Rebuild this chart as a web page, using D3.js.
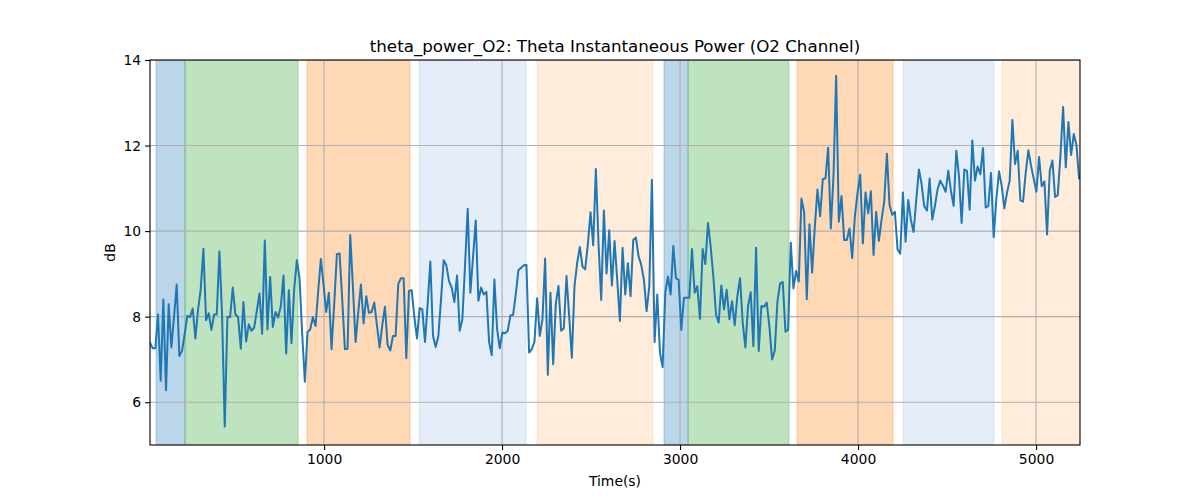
<!DOCTYPE html>
<html>
<head>
<meta charset="utf-8">
<script src="https://cdn.jsdelivr.net/npm/d3@7"></script>
<style>
  html, body { margin: 0; padding: 0; background: #fff; }
  svg { font-family: "DejaVu Sans", sans-serif; }
</style>
</head>
<body>
<svg id="chart" width="1200" height="500"></svg>
<script>
// ---- data ----
const title = "theta_power_O2: Theta Instantaneous Power (O2 Channel)";
const xLabel = "Time(s)";
const yLabel = "dB";
const startTime = 22;      // seconds
const sampleStep = 15;     // seconds between samples
const powerDb = [
  7.39, 7.26, 7.26, 8.05, 6.50, 8.40, 6.28, 8.29, 7.28, 8.00,
  8.75, 7.08, 7.20, 7.60, 8.02, 7.99, 8.19, 7.49, 8.17, 8.64,
  9.59, 7.92, 8.08, 7.69, 8.05, 8.05, 9.53, 8.02, 5.43, 8.00,
  7.99, 8.68, 8.05, 7.99, 7.25, 8.34, 7.42, 7.82, 7.67, 7.74,
  8.13, 8.54, 7.60, 9.78, 7.70, 8.93, 7.76, 8.11, 7.98, 8.25,
  8.96, 7.14, 8.62, 7.38, 8.64, 9.32, 8.90, 7.60, 6.48, 7.64,
  7.70, 7.99, 7.78, 8.60, 9.35, 8.75, 8.11, 8.56, 7.24, 8.30,
  9.46, 9.48, 8.40, 7.24, 7.25, 9.91, 8.70, 7.41, 8.10, 8.75,
  7.84, 8.48, 8.09, 8.11, 8.33, 7.80, 7.28, 7.80, 8.23, 7.34,
  7.21, 7.55, 7.55, 8.77, 8.90, 8.90, 7.03, 8.60, 8.62, 8.00,
  7.49, 8.20, 8.17, 7.41, 8.30, 9.29, 7.55, 7.29, 7.55, 8.40,
  9.32, 9.20, 8.83, 8.68, 8.34, 8.96, 7.67, 7.94, 9.20, 10.52,
  8.56, 9.40, 10.25, 8.37, 8.68, 8.52, 8.58, 7.41, 7.10, 8.87,
  7.71, 7.26, 7.63, 7.61, 7.67, 8.03, 8.04, 8.52, 9.09, 9.14,
  9.20, 9.21, 7.16, 7.24, 7.41, 8.43, 7.55, 7.94, 9.36, 6.64,
  8.56, 6.89, 8.31, 8.72, 7.67, 7.73, 8.95, 8.02, 7.04, 8.72,
  9.26, 9.63, 9.17, 9.11, 9.69, 10.44, 9.67, 11.45, 9.70, 8.39,
  10.48, 9.01, 10.02, 8.73, 9.77, 8.86, 7.90, 9.61, 8.52, 9.25,
  8.48, 9.79, 9.85, 9.41, 9.21, 8.86, 8.13, 8.71, 11.20, 7.41,
  8.52, 7.16, 6.82, 8.56, 8.94, 8.52, 9.65, 8.90, 8.86, 7.69,
  8.44, 8.44, 8.44, 9.58, 8.56, 8.71, 7.95, 9.58, 9.23, 10.19,
  9.64, 8.94, 8.05, 7.86, 8.73, 8.17, 8.63, 7.94, 8.36, 7.80,
  8.48, 8.90, 7.86, 7.28, 8.25, 8.57, 7.31, 9.61, 7.20, 8.25,
  8.23, 8.33, 7.77, 7.00, 7.20, 8.35, 8.78, 8.81, 7.65, 7.69,
  9.73, 8.66, 9.07, 8.82, 10.76, 10.45, 8.41, 10.16, 9.03, 10.10,
  10.97, 10.35, 11.22, 11.23, 11.95, 10.06, 11.28, 13.63, 10.22, 10.82,
  9.79, 9.79, 10.06, 9.37, 10.34, 10.89, 11.32, 9.71, 10.90, 10.42,
  10.93, 9.44, 10.45, 9.77, 10.26, 10.69, 11.81, 10.61, 10.38, 10.45,
  9.57, 9.47, 10.90, 9.75, 10.73, 10.26, 9.98, 10.73, 11.44, 11.10,
  10.58, 10.48, 11.23, 10.27, 10.59, 10.98, 11.18, 11.06, 10.92, 11.41,
  10.94, 10.59, 11.88, 11.29, 10.19, 11.44, 11.41, 10.50, 12.12, 11.18,
  11.51, 11.33, 11.94, 10.55, 10.59, 11.36, 9.86, 10.75, 11.40, 11.06,
  10.53, 10.90, 11.18, 12.60, 11.57, 11.88, 10.72, 10.69, 11.37, 11.89,
  11.53, 11.22, 10.92, 11.73, 11.05, 11.16, 9.92, 11.41, 11.65, 10.80,
  10.84, 11.76, 12.90, 11.49, 12.55, 11.78, 12.27, 12.01, 11.23
];
// shaded segments: [start, end] in seconds and colour kind
const bandStarts = [56, 219, 904, 1534, 2197, 2910, 3045, 3657, 4253, 4809];
const bandEnds   = [219, 854, 1483, 2135, 2848, 3045, 3612, 4197, 4764, 5300];
const bandKinds  = ["blue", "green", "orange", "paleblue", "paleorange",
                    "blue", "green", "orange", "paleblue", "paleorange"];
const xTicks = [1000, 2000, 3000, 4000, 5000];
const yTicks = [6, 8, 10, 12, 14];
const xDomain = [22, 5247];
const yDomain = [5, 14];

// ---- styles ----
const bandStyle = {
  blue:       { color: "#1f77b4", opacity: 0.3 },
  green:      { color: "#2ca02c", opacity: 0.3 },
  orange:     { color: "#ff7f0e", opacity: 0.3 },
  paleblue:   { color: "#7fa6dd", opacity: 0.2 },
  paleorange: { color: "#ff7f0e", opacity: 0.15 }
};

const svg = d3.select("#chart");
const margin = { left: 150, right: 120, top: 60, bottom: 55 };
const W = 1200, H = 500;
const iw = W - margin.left - margin.right;
const ih = H - margin.top - margin.bottom;

const x = d3.scaleLinear().domain(xDomain).range([0, iw]);
const y = d3.scaleLinear().domain(yDomain).range([ih, 0]);

const g = svg.append("g").attr("transform", `translate(${margin.left},${margin.top})`);

g.append("defs").append("clipPath").attr("id", "clip")
  .append("rect").attr("width", iw).attr("height", ih);

const plot = g.append("g").attr("clip-path", "url(#clip)");

// bands
const bands = bandStarts.map((s, i) => ({ s, e: bandEnds[i], k: bandKinds[i] }));
plot.selectAll("rect.band").data(bands).enter().append("rect")
  .attr("class", "band")
  .attr("x", d => x(d.s))
  .attr("width", d => x(d.e) - x(d.s))
  .attr("y", 0)
  .attr("height", ih)
  .attr("fill", d => bandStyle[d.k].color)
  .attr("fill-opacity", d => bandStyle[d.k].opacity)
  .attr("stroke", d => bandStyle[d.k].color)
  .attr("stroke-opacity", d => bandStyle[d.k].opacity)
  .attr("stroke-width", 1);

// grid
plot.selectAll("line.gx").data(xTicks).enter().append("line")
  .attr("x1", d => x(d)).attr("x2", d => x(d))
  .attr("y1", 0).attr("y2", ih)
  .attr("stroke", "#b0b0b0").attr("stroke-width", 1.1);
plot.selectAll("line.gy").data(yTicks).enter().append("line")
  .attr("y1", d => y(d)).attr("y2", d => y(d))
  .attr("x1", 0).attr("x2", iw)
  .attr("stroke", "#b0b0b0").attr("stroke-width", 1.1);

// line
const pts = powerDb.map((v, i) => ({ t: startTime + i * sampleStep, v }));
plot.append("path").datum(pts)
  .attr("fill", "none")
  .attr("stroke", "#1f77b4")
  .attr("stroke-width", 2)
  .attr("stroke-linejoin", "round")
  .attr("stroke-linecap", "square")
  .attr("d", d3.line().x(d => x(d.t)).y(d => y(d.v)));

// axes
const xAxis = d3.axisBottom(x).tickValues(xTicks).tickSize(4.9).tickPadding(4).tickFormat(d3.format("d"));
const yAxis = d3.axisLeft(y).tickValues(yTicks).tickSize(4.9).tickPadding(4).tickFormat(d3.format("d"));

const gx = g.append("g").attr("transform", `translate(0,${ih})`).call(xAxis);
const gy = g.append("g").call(yAxis);
[gx, gy].forEach(a => {
  a.select(".domain").remove();
  a.selectAll("text").attr("font-size", 13.9).attr("fill", "#000").attr("font-family", "DejaVu Sans");
  a.selectAll("line").attr("stroke", "#000").attr("stroke-width", 1.1);
});

// frame
g.append("rect").attr("width", iw).attr("height", ih)
  .attr("fill", "none").attr("stroke", "#000").attr("stroke-width", 1.1);

// labels
svg.append("text").attr("x", margin.left + iw / 2).attr("y", 52)
  .attr("text-anchor", "middle").attr("font-size", 16.7).text(title);
svg.append("text").attr("x", margin.left + iw / 2).attr("y", 486)
  .attr("text-anchor", "middle").attr("font-size", 13.9).text(xLabel);
svg.append("text").attr("transform", `translate(115,${margin.top + ih / 2}) rotate(-90)`)
  .attr("text-anchor", "middle").attr("font-size", 13.9).text(yLabel);
</script>
</body>
</html>
